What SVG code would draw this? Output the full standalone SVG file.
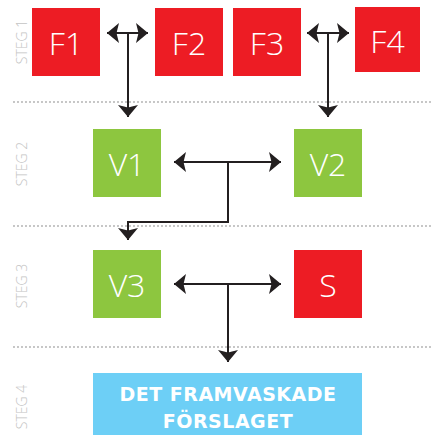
<svg xmlns="http://www.w3.org/2000/svg" width="433" height="435" viewBox="0 0 433 435">
<style>
.red{fill:#ed1c24}
.green{fill:#8dc63f}
.blue{fill:#6dcff6}
.lbl{font-family:"Open Sans","Liberation Sans",sans-serif;font-weight:300;font-size:32px;fill:#fff;text-anchor:middle}
.big{font-family:"DejaVu Sans","Liberation Sans",sans-serif;font-weight:bold;font-size:19px;fill:#fff;text-anchor:middle;letter-spacing:0.5px}
.steg{font-family:"Open Sans","Liberation Sans",sans-serif;font-weight:300;font-size:14px;fill:#c4c4c4;text-anchor:middle}
.dot{stroke:#b4b4b4;stroke-width:2;stroke-linecap:round;stroke-dasharray:0 4;fill:none}
.con{stroke:#231f20;stroke-width:2;fill:none}
</style>
<defs>
<marker id="ah" markerUnits="userSpaceOnUse" markerWidth="14" markerHeight="22" viewBox="-13 -11 14 22" refX="0" refY="0" orient="auto-start-reverse">
<path d="M0,0 L-12,-10 L-9.5,0 L-12,10 Z" fill="#231f20"/>
</marker>
</defs>
<g id="steps">
<line class="dot" x1="14" y1="102" x2="432" y2="102"/>
<line class="dot" x1="14" y1="226" x2="432" y2="226"/>
<line class="dot" x1="14" y1="347" x2="432" y2="347"/>
<text class="steg" transform="translate(27,42) rotate(-90)">STEG 1</text>
<text class="steg" transform="translate(27,164) rotate(-90)">STEG 2</text>
<text class="steg" transform="translate(27,286) rotate(-90)">STEG 3</text>
<text class="steg" transform="translate(27,407) rotate(-90)">STEG 4</text>
</g>
<g id="F1"><rect class="red" x="32" y="8" width="68" height="68"/><text class="lbl" x="66" y="55">F1</text></g>
<g id="F2"><rect class="red" x="155" y="8" width="68" height="68"/><text class="lbl" x="189" y="55">F2</text></g>
<g id="F3"><rect class="red" x="233" y="8" width="68" height="68"/><text class="lbl" x="267" y="55">F3</text></g>
<g id="F4"><rect class="red" x="355" y="7" width="65" height="65"/><text class="lbl" x="387.5" y="53">F4</text></g>
<g id="V1"><rect class="green" x="93" y="129" width="68" height="68"/><text class="lbl" x="127" y="176">V1</text></g>
<g id="V2"><rect class="green" x="294" y="129" width="68" height="68"/><text class="lbl" x="328" y="176">V2</text></g>
<g id="V3"><rect class="green" x="93" y="250" width="68" height="68"/><text class="lbl" x="127" y="297">V3</text></g>
<g id="S"><rect class="red" x="294" y="250" width="68" height="68"/><text class="lbl" x="328" y="297">S</text></g>
<g id="result"><rect class="blue" x="93" y="373" width="269" height="62"/>
<text class="big" x="228" y="401">DET FRAMVASKADE</text>
<text class="big" x="228" y="428">FÖRSLAGET</text></g>
<g id="connectors">
<line class="con" x1="107" y1="33" x2="148" y2="33" marker-start="url(#ah)" marker-end="url(#ah)"/>
<line class="con" x1="128" y1="33" x2="128" y2="117" marker-end="url(#ah)"/>
<line class="con" x1="307" y1="33" x2="349" y2="33" marker-start="url(#ah)" marker-end="url(#ah)"/>
<line class="con" x1="328" y1="33" x2="328" y2="117" marker-end="url(#ah)"/>
<line class="con" x1="174" y1="162" x2="281" y2="162" marker-start="url(#ah)" marker-end="url(#ah)"/>
<path class="con" d="M228,162 V222 H128 V240" marker-end="url(#ah)"/>
<line class="con" x1="174" y1="284" x2="281" y2="284" marker-start="url(#ah)" marker-end="url(#ah)"/>
<line class="con" x1="228" y1="284" x2="228" y2="362" marker-end="url(#ah)"/>
</g>
</svg>
